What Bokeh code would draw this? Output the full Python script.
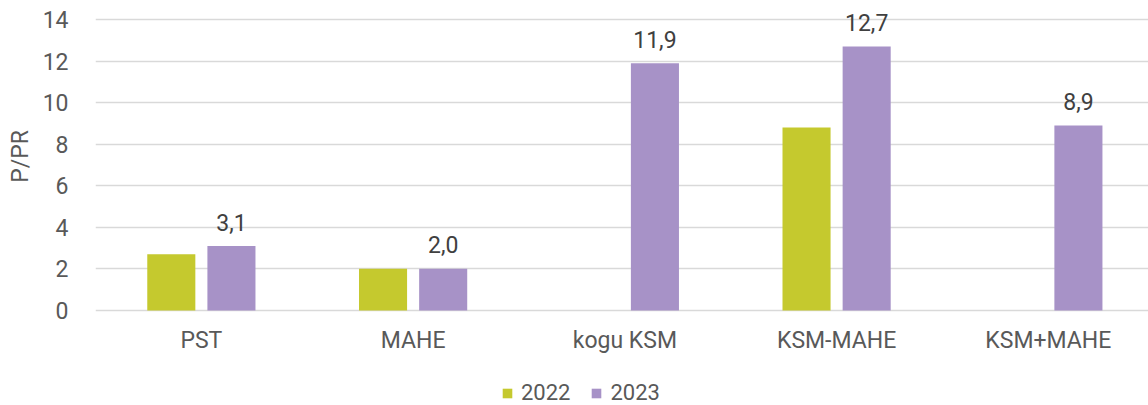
import numpy as np
from bokeh.plotting import figure
from bokeh.layouts import column
from bokeh.core.properties import value
from bokeh.models import ColumnDataSource, Range1d, FixedTicker, Legend, LegendItem, LabelSet
from bokeh.transform import dodge
from bokeh.embed import file_html
from bokeh.resources import INLINE

categories = ["PST", "MAHE", "kogu KSM", "KSM-MAHE", "KSM+MAHE"]
values_2022 = [2.7, 2.0, None, 8.8, None]
values_2023 = [3.1, 2.0, 11.9, 12.7, 8.9]
series_names = ["2022", "2023"]
y_ticks = [0, 2, 4, 6, 8, 10, 12, 14]
y_label = "P/PR"

COL_2022 = "#c5c92e"
COL_2023 = "#a792c7"
TXT = "#595959"
FONT = "Roboto"
FS = "23px"

centers = [i + 0.5 for i in range(len(categories))]

src22 = ColumnDataSource(dict(
    x=[c for c, v in zip(centers, values_2022) if v is not None],
    top=[v for v in values_2022 if v is not None],
))
src23 = ColumnDataSource(dict(
    x=centers,
    top=values_2023,
    label=[f"{v:.1f}".replace(".", ",") for v in values_2023],
))

p = figure(width=1148, height=367, output_backend="svg", toolbar_location=None,
           x_range=Range1d(0, 4.973), y_range=Range1d(-0.1, 14.915),
           min_border_left=95, min_border_right=0, min_border_top=0,
           min_border_bottom=55)

r22 = p.vbar(x=dodge("x", -0.142, range=p.x_range), top="top", bottom=0,
             width=0.227, source=src22, fill_color=COL_2022, line_color=None)
r23 = p.vbar(x=dodge("x", 0.142, range=p.x_range), top="top", bottom=0,
             width=0.227, source=src23, fill_color=COL_2023, line_color=None)

labels = LabelSet(x=dodge("x", 0.142, range=p.x_range), y="top", text="label",
                  source=src23, text_align="center", text_baseline="middle",
                  y_offset=24, text_font=value(FONT), text_font_size=FS,
                  text_color="#404040")
p.add_layout(labels)

p.xaxis.ticker = FixedTicker(ticks=centers)
p.xaxis.major_label_overrides = {c: n for c, n in zip(centers, categories)}
p.yaxis.ticker = FixedTicker(ticks=y_ticks)
p.yaxis.axis_label = y_label

for ax in (p.xaxis[0], p.yaxis[0]):
    ax.axis_line_color = None
    ax.major_tick_line_color = None
    ax.minor_tick_line_color = None
    ax.major_label_text_font = FONT
    ax.major_label_text_font_size = FS
    ax.major_label_text_color = TXT
    ax.axis_label_text_font = FONT
    ax.axis_label_text_font_size = FS
    ax.axis_label_text_color = TXT
    ax.axis_label_text_font_style = "normal"

p.xaxis.major_label_standoff = 8
p.yaxis.major_label_standoff = 21
p.yaxis.axis_label_standoff = 6

p.xgrid.grid_line_color = None
p.ygrid.grid_line_color = "#d9d9d9"
p.ygrid.grid_line_width = 1.3
p.outline_line_color = None

# legend strip below the chart
lg = figure(width=1148, height=38, output_backend="svg", toolbar_location=None,
            x_range=Range1d(0, 1), y_range=Range1d(0, 1),
            min_border_left=0, min_border_right=0, min_border_top=0,
            min_border_bottom=0)
lg.axis.visible = False
lg.grid.visible = False
lg.outline_line_color = None
l22 = lg.vbar(x=dodge("x", 10, range=lg.x_range), top="top", bottom=0,
              width=0.227, source=src22, fill_color=COL_2022, line_color=None)
l23 = lg.vbar(x=dodge("x", 10, range=lg.x_range), top="top", bottom=0,
              width=0.227, source=src23, fill_color=COL_2023, line_color=None)

legend = Legend(items=[LegendItem(label=series_names[0], renderers=[l22]),
                       LegendItem(label=series_names[1], renderers=[l23])],
                orientation="horizontal", location=(406, 0),
                glyph_width=12, glyph_height=12, label_standoff=8, spacing=20,
                label_text_font=FONT, label_text_font_size="22px",
                label_text_color=TXT, border_line_color=None,
                background_fill_alpha=0, padding=0, margin=0)
lg.add_layout(legend)

layout = column(p, lg, spacing=0)
open("out.html", "w").write(file_html(layout, INLINE))
